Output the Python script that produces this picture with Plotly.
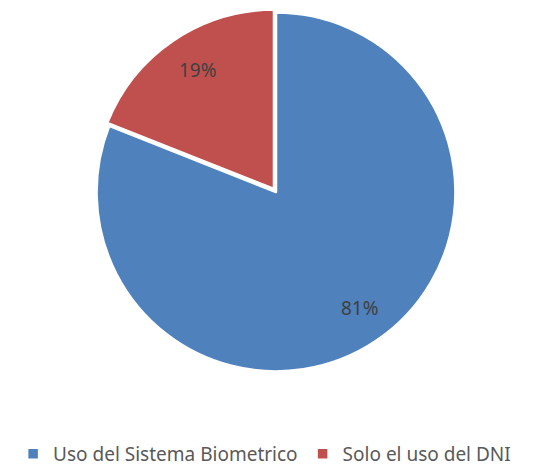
import math
import plotly.graph_objects as go

labels = ["Uso del Sistema Biometrico", "Solo el uso del DNI"]
values = [81, 19]
colors = ["#4F81BD", "#C0504D"]
pulls = [0, 0.02]

W, H = 546, 467
# centre/radius used for the percentage labels (pixels)
lx, ly, r = 271, 181, 180
# domain box tuned so the drawn pie lands at centre (276, 190), radius 180
dx, dy, dr = 268, 184, 183

fig = go.Figure()
fig.add_trace(go.Pie(
    labels=labels,
    values=values,
    sort=False,
    direction="clockwise",
    rotation=0,
    pull=pulls,
    marker=dict(colors=colors, line=dict(color="white", width=2.5)),
    textinfo="none",
    hoverinfo="label+percent",
    domain=dict(x=[(dx - dr) / W, (dx + dr) / W],
                y=[(H - dy - dr) / H, min(1, (H - dy + dr) / H)]),
))

# percentage labels placed along each slice's mid angle
total = sum(values)
start = 90.0
for v in values:
    sweep = 360.0 * v / total
    mid = math.radians(start - sweep / 2)
    start -= sweep
    px = lx + 0.8 * r * math.cos(mid)
    py = ly - 0.8 * r * math.sin(mid)
    fig.add_annotation(
        x=px / W, y=1 - py / H, xref="paper", yref="paper",
        xanchor="center", yanchor="middle",
        text=f"{round(100 * v / total)}%", showarrow=False,
        font=dict(size=19, color="#404040"),
    )

fig.update_layout(
    width=W, height=H,
    margin=dict(l=0, r=0, t=0, b=0, autoexpand=False),
    paper_bgcolor="white",
    font=dict(family="Noto Sans, Open Sans, sans-serif", color="#595959"),
    legend=dict(
        orientation="h", x=0.47, xanchor="center", y=0.045, yanchor="middle",
        font=dict(size=19, color="#595959"),
    ),
)

fig.write_html("out.html")
